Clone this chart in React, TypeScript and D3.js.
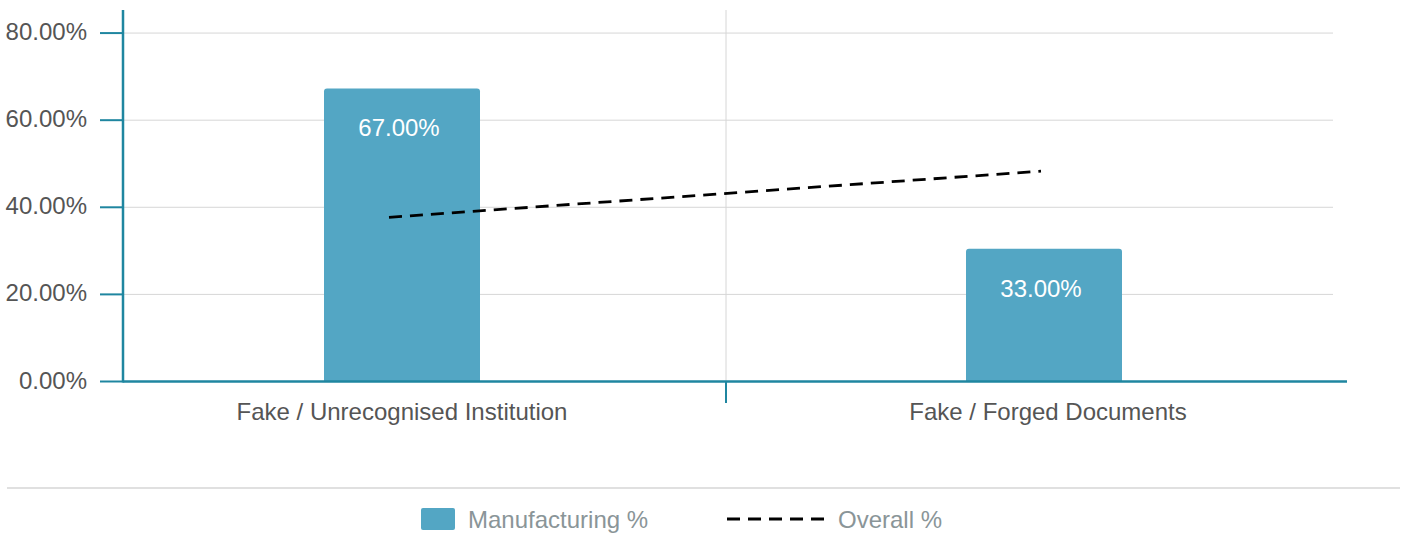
import React from "react";
import * as d3 from "d3";

const categories = ["Fake / Unrecognised Institution", "Fake / Forged Documents"];
const barValues = [67.3, 30.5];
const barLabels = ["67.00%", "33.00%"];
const lineValues = [37.7, 48.3];
const yTicks = [0, 20, 40, 60, 80];
const seriesNames = ["Manufacturing %", "Overall %"];

const W = 1402;
const H = 545;
const FONT = "'Liberation Sans', Arial, Helvetica, sans-serif";
const AXIS = "#1f86a0";
const BAR = "#53a6c4";
const GRID = "#d6d6d6";

export default function App() {
  const y = d3.scaleLinear().domain([0, 85]).range([381.5, 11.3]);
  const x = d3.scaleBand<string>().domain(categories).range([81, 1365]);
  const xl = d3.scalePoint<string>().domain(categories).range([389, 1041]);
  const barW = 156;
  const plotLeft = 123;
  const gridRight = 1333;
  const axisRight = 1347;
  const divider = (x(categories[1]) as number) + 3;
  const line = d3
    .line<number>()
    .x((_, i) => xl(categories[i]) as number)
    .y((d) => y(d));

  return (
    <svg
      width={W}
      height={H}
      style={{ position: "absolute", left: 0, top: 0, fontFamily: FONT }}
    >
      {/* gridlines */}
      {yTicks.map((t) =>
        t === 0 ? null : (
          <line key={t} x1={plotLeft} x2={gridRight} y1={y(t)} y2={y(t)} stroke={GRID} strokeWidth={1} />
        )
      )}
      <line x1={divider} x2={divider} y1={10} y2={y(0)} stroke={GRID} strokeWidth={1} />

      {/* bars */}
      {categories.map((c, i) => {
        const cx = (x(c) as number) + x.bandwidth() / 2;
        const top = y(barValues[i]);
        const r = 3;
        const x0 = cx - barW / 2;
        const x1 = cx + barW / 2;
        const d = `M${x0},${y(0)} L${x0},${top + r} Q${x0},${top} ${x0 + r},${top} L${x1 - r},${top} Q${x1},${top} ${x1},${top + r} L${x1},${y(0)} Z`;
        return (
          <g key={c}>
            <path d={d} fill={BAR} />
            <text x={cx - 3} y={top + 48} textAnchor="middle" fill="#ffffff" fontSize={24}>
              {barLabels[i]}
            </text>
          </g>
        );
      })}

      {/* line */}
      <path d={line(lineValues) || ""} fill="none" stroke="#000" strokeWidth={2.8} strokeDasharray="13,8" />

      {/* y axis */}
      <line x1={plotLeft} x2={plotLeft} y1={10} y2={y(0) + 1} stroke={AXIS} strokeWidth={2.5} />
      {yTicks.map((t) => (
        <g key={t}>
          <line x1={100} x2={plotLeft} y1={y(t)} y2={y(t)} stroke={AXIS} strokeWidth={2} />
          <text x={87} y={y(t) + 7} textAnchor="end" fill="#555" fontSize={24}>
            {d3.format(".2f")(t) + "%"}
          </text>
        </g>
      ))}

      {/* x axis */}
      <line x1={plotLeft} x2={axisRight} y1={y(0)} y2={y(0)} stroke={AXIS} strokeWidth={2.5} />
      <line x1={divider} x2={divider} y1={y(0)} y2={403} stroke={AXIS} strokeWidth={2} />
      {categories.map((c, i) => (
        <text
          key={c}
          x={(x(c) as number) + x.bandwidth() / 2 + (i === 1 ? 4 : 0)}
          y={420}
          textAnchor="middle"
          fill="#555"
          fontSize={24}
        >
          {c}
        </text>
      ))}

      {/* separator */}
      <line x1={7} x2={1400} y1={488} y2={488} stroke={GRID} strokeWidth={1.5} />

      {/* legend */}
      <rect x={421} y={508} width={34} height={22} rx={2} fill={BAR} />
      <text x={468} y={528} fill="#8a9598" fontSize={24}>
        {seriesNames[0]}
      </text>
      <line x1={727} x2={825} y1={519} y2={519} stroke="#000" strokeWidth={2.8} strokeDasharray="13,8" />
      <text x={838} y={528} fill="#8a9598" fontSize={24}>
        {seriesNames[1]}
      </text>
    </svg>
  );
}
